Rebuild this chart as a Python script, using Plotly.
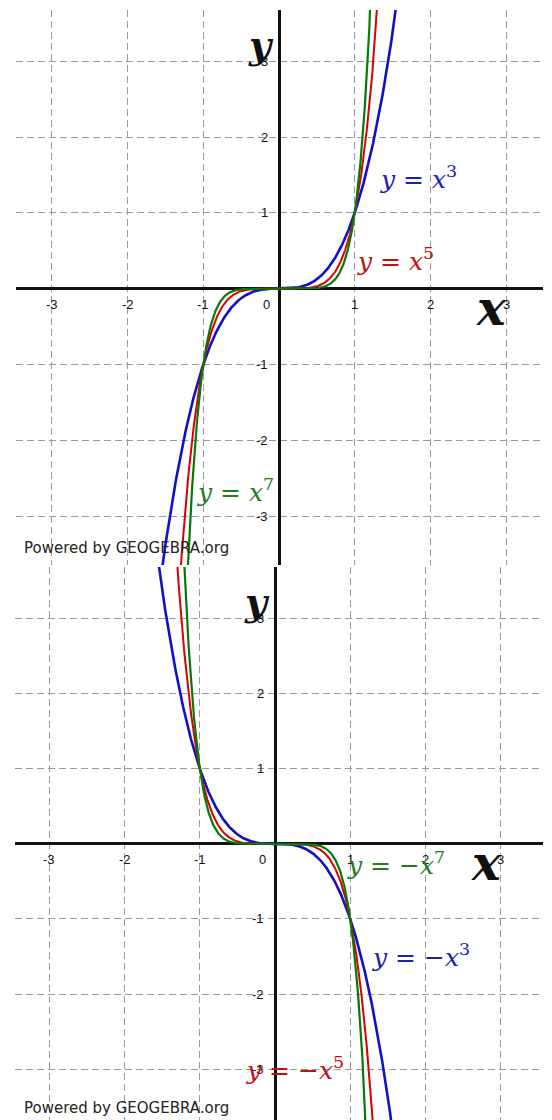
import numpy as np
import plotly.graph_objects as go

# Odd powers drawn in each panel
exponents = [3, 5, 7]
curve_colors = ["#1010c8", "#d80000", "#087808"]
label_colors = ["#2020b0", "#c01010", "#237a23"]
curve_widths = [2.6, 2.0, 2.2]

# Integer grid / tick positions
ticks = [-3, -2, -1, 1, 2, 3]
tick_text = ["-3", "-2", "-1", "1", "2", "3"]

# Equation labels (text, anchor x, anchor y) per panel
top_labels = [("<i>y</i> = <i>x</i><sup>3</sup>", 1.31, 1.47),
              ("<i>y</i> = <i>x</i><sup>5</sup>", 1.00, 0.39),
              ("<i>y</i> = <i>x</i><sup>7</sup>", -1.11, -2.66)]
bot_labels = [("<i>y</i> = \u2212<i>x</i><sup>3</sup>", 1.26, -1.49),
              ("<i>y</i> = \u2212<i>x</i><sup>5</sup>", -0.41, -2.99),
              ("<i>y</i> = \u2212<i>x</i><sup>7</sup>", 0.93, -0.26)]

# Visible windows of the two graphics views
top_xrange = [-3.474, 3.487]
top_yrange = [-3.645, 3.677]
bot_xrange = [-3.456, 3.562]
bot_yrange = [-3.674, 3.682]

xs = np.linspace(-1.8, 1.8, 1201)

fig = go.Figure()

for sign, xa, ya in [(1, "x", "y"), (-1, "x2", "y2")]:
    for n, c, w in zip(exponents, curve_colors, curve_widths):
        fig.add_trace(go.Scatter(x=xs, y=sign * xs ** n, mode="lines",
                                 line=dict(color=c, width=w),
                                 xaxis=xa, yaxis=ya, showlegend=False,
                                 hoverinfo="skip"))

grid = dict(showgrid=True, gridcolor="#9a9a9a", gridwidth=1.3,
            griddash="7px,4px", zeroline=True, zerolinecolor="#111111",
            zerolinewidth=3, showticklabels=False, ticks="",
            tickmode="array", tickvals=ticks, showline=False,
            fixedrange=True)

fig.update_layout(
    width=552, height=1120,
    margin=dict(l=0, r=0, t=0, b=0),
    paper_bgcolor="white", plot_bgcolor="white",
    xaxis=dict(domain=[16 / 552, 543 / 552], range=top_xrange, anchor="y", **grid),
    yaxis=dict(domain=[1 - 565 / 1120, 1 - 10 / 1120], range=top_yrange, anchor="x", **grid),
    xaxis2=dict(domain=[15 / 552, 543 / 552], range=bot_xrange, anchor="y2", **grid),
    yaxis2=dict(domain=[0, 1 - 567 / 1120], range=bot_yrange, anchor="x2", **grid),
)

tick_font = dict(family="Liberation Sans, Arial", size=13, color="#111111")
math_font = "DejaVu Serif, Liberation Serif, serif"

annotations = []
for xa, ya, labels, sign in [("x", "y", top_labels, 1), ("x2", "y2", bot_labels, -1)]:
    # Tick numbers along the x-axis
    for v, t in zip(ticks, tick_text):
        annotations.append(dict(x=v, y=0, xref=xa, yref=ya, text=t, showarrow=False,
                                font=tick_font, xanchor="center", yanchor="middle",
                                yshift=-16))
    annotations.append(dict(x=0, y=0, xref=xa, yref=ya, text="0", showarrow=False,
                            font=tick_font, xanchor="center", yanchor="middle",
                            xshift=-13, yshift=-16))
    # Tick numbers along the y-axis
    for v, t in zip(ticks, tick_text):
        annotations.append(dict(x=0, y=v, xref=xa, yref=ya, text=t, showarrow=False,
                                font=tick_font, xanchor="right", yanchor="middle",
                                xshift=-9))
    # Axis names
    annotations.append(dict(x=-0.24, y=3.22, xref=xa, yref=ya, text="<b><i>y</i></b>",
                            showarrow=False, xanchor="center", yanchor="middle",
                            font=dict(family=math_font, size=38, color="#111111")))
    annotations.append(dict(x=2.81, y=-0.25, xref=xa, yref=ya, text="<b><i>x</i></b>",
                            showarrow=False, xanchor="center", yanchor="middle",
                            font=dict(family=math_font, size=48, color="#111111")))
    # Equations
    for (txt, lx, ly), col in zip(labels, label_colors):
        annotations.append(dict(x=lx, y=ly, xref=xa, yref=ya, text=txt, showarrow=False,
                                xanchor="left", yanchor="middle",
                                font=dict(family=math_font, size=25, color=col)))

# Watermarks
for py in [548, 1108]:
    annotations.append(dict(x=22 / 552, y=1 - py / 1120, xref="paper", yref="paper",
                            text="Powered by GEOGEBRA.org", showarrow=False,
                            xanchor="left", yanchor="middle",
                            font=dict(family="DejaVu Sans", size=15, color="#222222")))

fig.update_layout(annotations=annotations)

fig.write_html("out.html")
